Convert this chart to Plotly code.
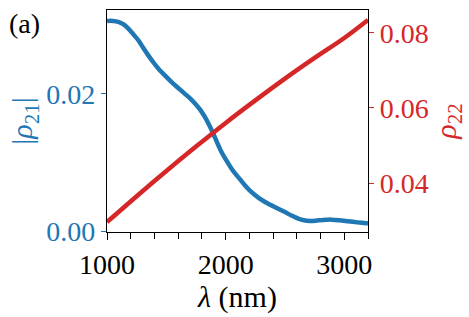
import plotly.graph_objects as go

# wavelength (nm) and |rho21| (blue, left axis)
lam_rho21 = [1000, 1011, 1050, 1095, 1140, 1180, 1220, 1264, 1305, 1348, 1390, 1432, 1490, 1545, 1600, 1657,
             1700, 1742, 1785, 1826, 1860, 1896, 1930, 1966, 2010, 2050, 2090, 2120, 2162, 2200, 2247,
             2300, 2359, 2430, 2500, 2560, 2612, 2660, 2710, 2760, 2820, 2893, 2960, 3033, 3110, 3188, 3200]
rho21 = [0.03058, 0.03061, 0.03060, 0.03047, 0.03010, 0.02950, 0.02870, 0.02780, 0.02670, 0.02560, 0.02460,
         0.02370, 0.02265, 0.02170, 0.02085, 0.02000, 0.01935, 0.01860, 0.01770, 0.01660, 0.01550, 0.01420,
         0.01285, 0.01150, 0.01020, 0.00910, 0.00820, 0.00760, 0.00670, 0.00600, 0.00530, 0.00460, 0.00400,
         0.00340, 0.00280, 0.00225, 0.00185, 0.00160, 0.00150, 0.00155, 0.00165, 0.00170, 0.00162, 0.00146,
         0.00130, 0.00116, 0.00114]

# wavelength (nm) and rho22 (red, right axis)
lam_rho22 = [1000, 1250, 1500, 1750, 2000, 2250, 2500, 2750, 3000, 3200]
rho22 = [0.0296, 0.0365, 0.0432, 0.0497, 0.0560, 0.0620, 0.0678, 0.0733, 0.0786, 0.0834]

x_ticks = [1000, 2000, 3000]
left_ticks = [0.00, 0.02]
left_ticklabels = ["0.00", "0.02"]
right_ticks = [0.04, 0.06, 0.08]
right_ticklabels = ["0.04", "0.06", "0.08"]

BLUE = "#1f77b4"
RED = "#d62728"
FONT = "'Liberation Serif', 'Times New Roman', serif"

fig = go.Figure()
fig.add_trace(go.Scatter(x=lam_rho21, y=rho21, mode="lines", line=dict(color=BLUE, width=4.5, shape="spline", smoothing=0.6),
                         yaxis="y", showlegend=False))
fig.add_trace(go.Scatter(x=lam_rho22, y=rho22, mode="lines", line=dict(color=RED, width=4.5, shape="spline"),
                         yaxis="y2", showlegend=False))

fig.update_layout(
    width=469, height=317,
    margin=dict(l=107, r=101, t=10, b=85, autoexpand=False),
    paper_bgcolor="white", plot_bgcolor="white",
    font=dict(family=FONT, size=28, color="black"),
    xaxis=dict(range=[1000, 3200], tickvals=x_ticks, ticktext=[str(v) for v in x_ticks],
               ticks="outside", ticklen=7, tickwidth=1, tickcolor="black",
               minor=dict(dtick=200, tick0=1000, ticks="outside", ticklen=6, tickcolor="black"),
               showline=True, linecolor="black", linewidth=1.2, mirror=True,
               showgrid=False, zeroline=False, automargin=False,
               tickfont=dict(family=FONT, size=28, color="black"),
               title=dict(text="<i>λ</i> (nm)", font=dict(family=FONT, size=30, color="black"), standoff=2)),
    yaxis=dict(range=[-0.0001, 0.0322], tickvals=left_ticks, ticktext=left_ticklabels,
               ticks="outside", ticklen=5, tickcolor=BLUE,
               showline=True, linecolor="black", linewidth=1.2,
               showgrid=False, zeroline=False, automargin=False,
               tickfont=dict(family=FONT, size=28, color=BLUE),
               title=dict(text="|<i>ρ</i><sub>21</sub>|", font=dict(family=FONT, size=30, color=BLUE), standoff=4)),
    yaxis2=dict(range=[0.02697, 0.08604], tickvals=right_ticks, ticktext=right_ticklabels,
                overlaying="y", side="right",
                ticks="outside", ticklen=5, tickcolor=RED,
                showline=True, linecolor="black", linewidth=1.2,
                showgrid=False, zeroline=False, automargin=False,
                tickfont=dict(family=FONT, size=28, color=RED),
                title=dict(text="<i>ρ</i><sub>22</sub>", font=dict(family=FONT, size=30, color=RED), standoff=4)),
    annotations=[dict(text="(a)", xref="paper", yref="paper", x=-0.385, y=1.02,
                      xanchor="left", yanchor="top", showarrow=False,
                      font=dict(family=FONT, size=28, color="black"))],
)

fig.write_html("out.html", config={"displayModeBar": False},
               post_script="document.body.style.margin='0px';")
